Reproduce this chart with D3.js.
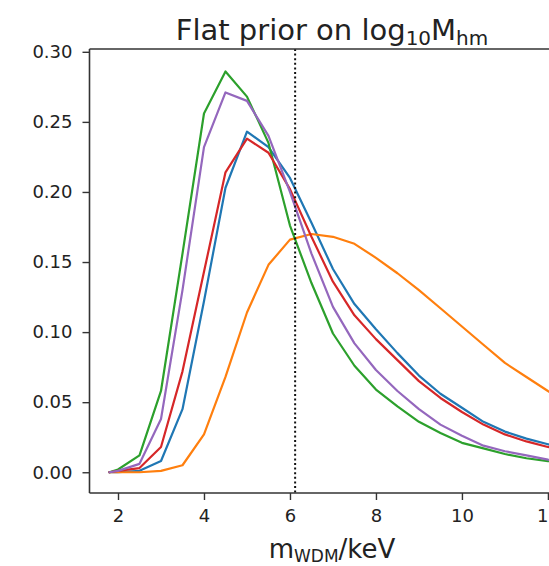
<!DOCTYPE html>
<html>
<head>
<meta charset="utf-8">
<script src="https://cdn.jsdelivr.net/npm/d3@7"></script>
<style>
  html, body { margin: 0; padding: 0; background: #fff; }
  svg { display: block; font-family: "DejaVu Sans", sans-serif; }
</style>
</head>
<body>
<svg id="chart" width="549" height="566"></svg>
<script>
// Posterior densities of the WDM particle mass, flat prior on log10 M_hm
const massGrid = [1.8, 2.0, 2.5, 3.0, 3.5, 4.0, 4.5, 5.0, 5.5, 6.0, 6.5, 7.0, 7.5, 8.0, 8.5, 9.0, 9.5, 10.0, 10.5, 11.0, 11.5, 12.0, 12.5, 13.0];
const densityBlue   = [0, 0, 0.001, 0.008, 0.045, 0.122, 0.203, 0.243, 0.232, 0.210, 0.178, 0.145, 0.120, 0.102, 0.085, 0.069, 0.056, 0.046, 0.036, 0.029, 0.024, 0.020, 0.016, 0.013];
const densityOrange = [0, 0, 0, 0.001, 0.005, 0.027, 0.068, 0.114, 0.148, 0.166, 0.170, 0.168, 0.163, 0.153, 0.142, 0.130, 0.117, 0.104, 0.091, 0.078, 0.068, 0.058, 0.049, 0.041];
const densityGreen  = [0, 0.002, 0.012, 0.058, 0.156, 0.256, 0.286, 0.268, 0.235, 0.176, 0.135, 0.099, 0.076, 0.059, 0.047, 0.036, 0.028, 0.021, 0.017, 0.013, 0.010, 0.008, 0.006, 0.005];
const densityRed    = [0, 0.001, 0.003, 0.018, 0.072, 0.143, 0.214, 0.238, 0.228, 0.202, 0.168, 0.136, 0.112, 0.095, 0.080, 0.065, 0.053, 0.043, 0.034, 0.027, 0.022, 0.018, 0.015, 0.012];
const densityPurple = [0, 0.001, 0.006, 0.038, 0.130, 0.232, 0.271, 0.265, 0.240, 0.200, 0.156, 0.118, 0.092, 0.073, 0.058, 0.045, 0.034, 0.026, 0.019, 0.015, 0.012, 0.009, 0.007, 0.006];
const seriesColors = ["#1f77b4", "#ff7f0e", "#2ca02c", "#d62728", "#9467bd"];
const referenceMass = 6.12;
const xTicks = [2, 4, 6, 8, 10, 12];
const yTicks = [0.00, 0.05, 0.10, 0.15, 0.20, 0.25, 0.30];

const series = [densityBlue, densityOrange, densityGreen, densityRed, densityPurple];

const svg = d3.select("#chart");
const plot = { left: 89.5, right: 572, top: 49, bottom: 493 };

const x = d3.scaleLinear().domain([1.337, 12.56]).range([plot.left, plot.right]);
const y = d3.scaleLinear().domain([-0.0148, 0.302]).range([plot.bottom, plot.top]);

svg.append("defs").append("clipPath").attr("id", "plotClip")
  .append("rect")
  .attr("x", plot.left).attr("y", plot.top)
  .attr("width", plot.right - plot.left).attr("height", plot.bottom - plot.top);

const lines = svg.append("g").attr("clip-path", "url(#plotClip)");

const line = d3.line()
  .x((d, i) => x(massGrid[i]))
  .y(d => y(d));

series.forEach((vals, k) => {
  lines.append("path")
    .datum(vals)
    .attr("d", line)
    .attr("fill", "none")
    .attr("stroke", seriesColors[k])
    .attr("stroke-width", 2.2)
    .attr("stroke-linejoin", "round")
    .attr("stroke-linecap", "round");
});

// vertical dotted reference mass
lines.append("line")
  .attr("x1", x(referenceMass)).attr("x2", x(referenceMass))
  .attr("y1", plot.top).attr("y2", plot.bottom)
  .attr("stroke", "#111")
  .attr("stroke-width", 2)
  .attr("stroke-dasharray", "2,2.6");

// axes
const xAxis = d3.axisBottom(x).tickValues(xTicks).tickFormat(d3.format("d"))
  .tickSize(7).tickPadding(9);
const yAxis = d3.axisLeft(y).tickValues(yTicks).tickFormat(d3.format(".2f"))
  .tickSize(7).tickPadding(10);

const gx = svg.append("g").attr("transform", `translate(0,${plot.bottom})`).call(xAxis);
const gy = svg.append("g").attr("transform", `translate(${plot.left},0)`).call(yAxis);

[gx, gy].forEach(g => {
  g.select(".domain").remove();
  g.selectAll(".tick line").attr("stroke", "#333").attr("stroke-width", 1.4);
  g.selectAll(".tick text")
    .attr("fill", "#222")
    .style("font-size", "18px")
    .style("font-family", "DejaVu Sans, sans-serif");
});

// spines: left, bottom, top
const spine = svg.append("g").attr("stroke", "#333").attr("stroke-width", 1.6).attr("fill", "none");
spine.append("line").attr("x1", plot.left).attr("x2", plot.left).attr("y1", plot.top).attr("y2", plot.bottom);
spine.append("line").attr("x1", plot.left).attr("x2", plot.right).attr("y1", plot.bottom).attr("y2", plot.bottom);
spine.append("line").attr("x1", plot.left).attr("x2", plot.right).attr("y1", plot.top).attr("y2", plot.top);

// title
const title = svg.append("text")
  .attr("x", 332)
  .attr("y", 40)
  .attr("text-anchor", "middle")
  .attr("fill", "#222")
  .style("font-size", "29px");
title.append("tspan").text("Flat prior on log");
title.append("tspan").attr("dy", 5).style("font-size", "20px").text("10");
title.append("tspan").attr("dy", -5).text("M");
title.append("tspan").attr("dy", 5).style("font-size", "20px").text("hm");

// x-axis label
const xlabel = svg.append("text")
  .attr("x", 332)
  .attr("y", 558)
  .attr("text-anchor", "middle")
  .attr("fill", "#222")
  .style("font-size", "26px");
xlabel.append("tspan").text("m");
xlabel.append("tspan").attr("dy", 4).style("font-size", "17px").text("WDM");
xlabel.append("tspan").attr("dy", -4).text("/keV");
</script>
</body>
</html>
